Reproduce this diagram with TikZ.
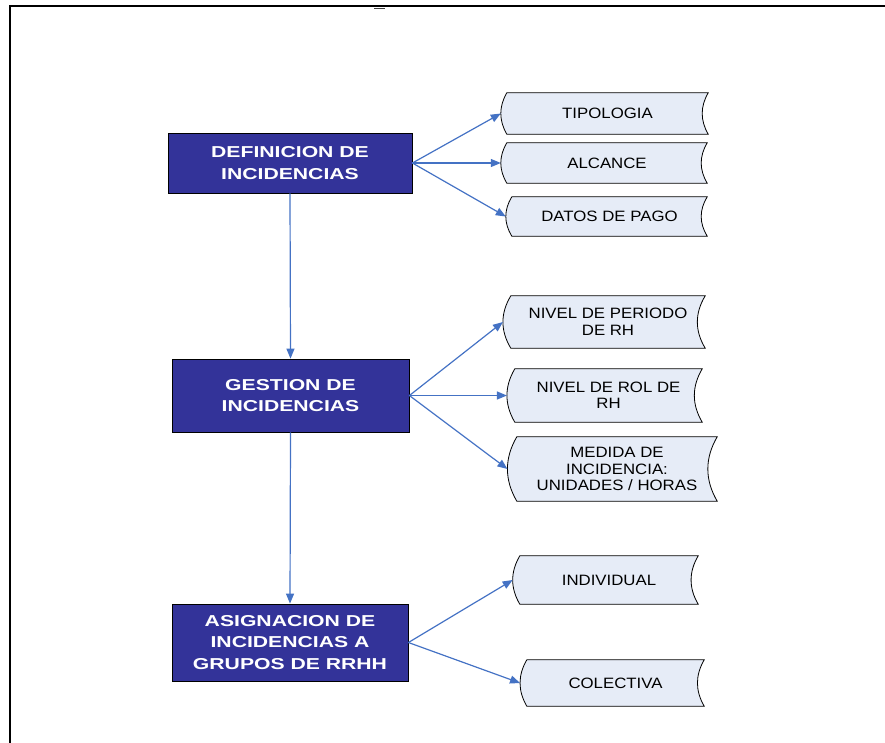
\documentclass[tikz,border=0pt]{standalone}
\usepackage{fontspec}
\setmainfont{Liberation Sans}
\newfontfamily\headfont{Liberation Sans Bold}[FakeStretch=1.34]
\newfontfamily\itemfont{Liberation Sans}[FakeStretch=1.12]
\usetikzlibrary{arrows.meta,calc,backgrounds}
\definecolor{headblue}{RGB}{51,51,153}
\definecolor{itemfill}{RGB}{230,236,247}
\definecolor{linkblue}{RGB}{68,114,196}
\begin{document}
\begin{tikzpicture}[x=1pt,y=-1pt,
  headbox/.style={draw=black, line width=0.8pt, fill=headblue, text=white,
    align=center, inner sep=0pt, font=\headfont\fontsize{15.8}{21.5}\selectfont},
  itembox/.style={inner sep=0pt, align=center,
    font=\itemfont\fontsize{15}{16.5}\selectfont},
  itemline/.style={draw=black, line width=0.8pt, fill=itemfill},
  link/.style={draw=linkblue, line width=1.2pt, -{Triangle[length=10pt,width=8pt]}}
]
\useasboundingbox (0,0) rectangle (885,742);

% page frame
\draw[line width=2pt] (10,743) -- (10,6) -- (886,6);
\draw[line width=1pt, black!75] (374,8) -- (385,8);

% main stages
\node[headbox, minimum width=244, minimum height=60] (def) at (290,163)
  {DEFINICION DE\\INCIDENCIAS};
\node[headbox, minimum width=237, minimum height=73] (ges) at (290.5,395.5)
  {GESTION DE\\INCIDENCIAS};
\node[headbox, minimum width=236, minimum height=77] (asg) at (290,642.5)
  {ASIGNACION DE\\INCIDENCIAS A\\GRUPOS DE RRHH};

% detail items
\node[itembox, minimum width=201, minimum height=41] (t1) at (607.5,113.5) {TIPOLOGIA};
\node[itembox, minimum width=200, minimum height=40] (t2) at (607,163) {ALCANCE};
\node[itembox, minimum width=195, minimum height=39] (t3) at (609.5,216.5) {DATOS DE PAGO};
\node[itembox, minimum width=194, minimum height=52] (g1) at (608,322) {NIVEL DE PERIODO\\DE RH};
\node[itembox, minimum width=187, minimum height=53] (g2) at (608.5,395.5) {NIVEL DE ROL DE\\RH};
\node[itembox, minimum width=200, minimum height=64] (g3) at (617,469) {MEDIDA DE\\INCIDENCIA:\\UNIDADES / HORAS};
\node[itembox, minimum width=178, minimum height=48] (a1) at (609,580) {INDIVIDUAL};
\node[itembox, minimum width=177, minimum height=46] (a2) at (615.5,683) {COLECTIVA};

% stored-data outlines behind the item texts
\begin{scope}[on background layer]
\foreach \n/\c in {t1/8,t2/8,t3/8,g1/10.5,g2/10.5,g3/12.5,a1/9.5,a2/9}{
  \path[itemline] (\n.north west)
    .. controls ($(\n.north west)!1/3!(\n.south west)+(-\c,0)$)
            and ($(\n.north west)!2/3!(\n.south west)+(-\c,0)$) .. (\n.south west)
    -- (\n.south east)
    .. controls ($(\n.south east)!1/3!(\n.north east)+(-\c,0)$)
            and ($(\n.south east)!2/3!(\n.north east)+(-\c,0)$) .. (\n.north east)
    -- cycle;
  \coordinate (\n-in) at ([xshift=-0.75*\c pt]\n.west);
}
\end{scope}

% connectors
\draw[link] (def.south) -- (ges.north);
\draw[link] (ges.south) -- (asg.north);
\draw[link] (def.east) -- (t1-in);
\draw[link] (def.east) -- (t2-in);
\draw[link] (def.east) -- (t3-in);
\draw[link] (ges.east) -- (g1-in);
\draw[link] (ges.east) -- (g2-in);
\draw[link] (ges.east) -- (g3-in);
\draw[link] (asg.east) -- (a1-in);
\draw[link] (asg.east) -- (a2-in);
\end{tikzpicture}
\end{document}
